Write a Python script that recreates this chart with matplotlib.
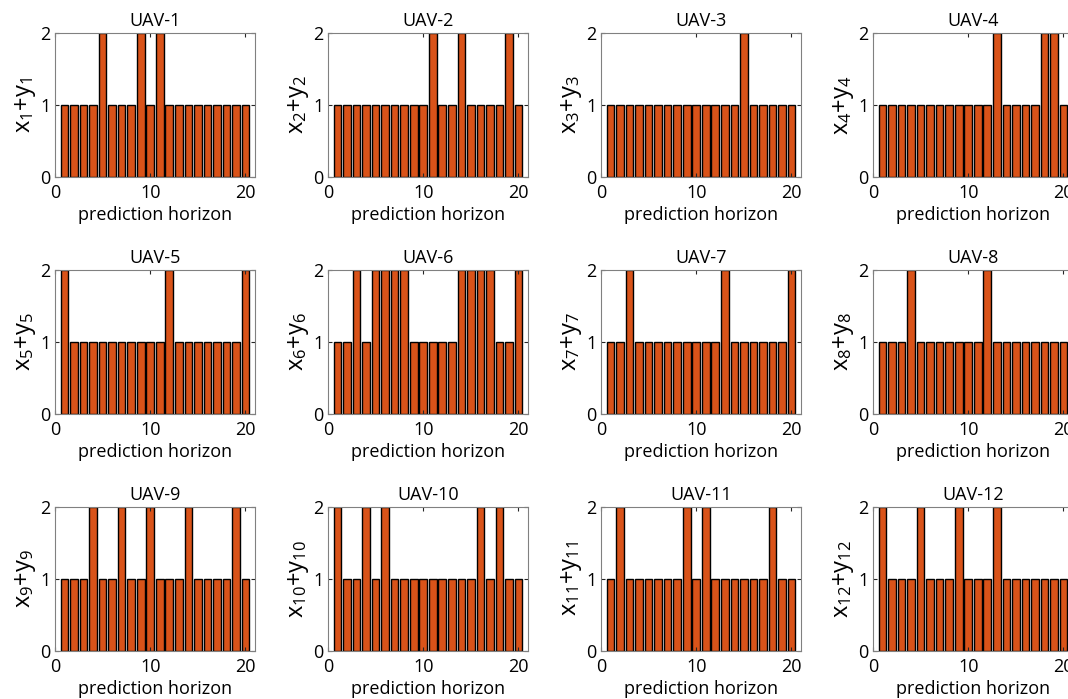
import numpy as np
import matplotlib
matplotlib.use("Agg")
import matplotlib.pyplot as plt

plt.rcParams['font.family'] = ['Open Sans', 'DejaVu Sans']
plt.rcParams['mathtext.fontset'] = 'custom'
plt.rcParams['mathtext.rm'] = 'Open Sans'
plt.rcParams['mathtext.it'] = 'Open Sans'

# prediction horizon steps
steps = np.arange(1, 21)

# steps where x_i + y_i = 2 (all other steps are 1)
uav1 = [5, 9, 11]
uav2 = [11, 14, 19]
uav3 = [15]
uav4 = [13, 18, 19]
uav5 = [1, 12, 20]
uav6 = [3, 5, 6, 7, 8, 14, 15, 16, 17, 20]
uav7 = [3, 13, 20]
uav8 = [4, 12]
uav9 = [4, 7, 10, 14, 19]
uav10 = [1, 4, 6, 16, 18]
uav11 = [2, 9, 11, 18]
uav12 = [1, 5, 9, 13]

peaks = [uav1, uav2, uav3, uav4, uav5, uav6,
         uav7, uav8, uav9, uav10, uav11, uav12]

W, H = 1068, 699
fig = plt.figure(figsize=(W / 100, H / 100), dpi=100)

col_left = [55, 328, 601, 873]
row_top = [33, 270, 507]
ax_w, ax_h = 200, 144
edge = '#262626'

for i, pk in enumerate(peaks):
    r, c = divmod(i, 4)
    ax = fig.add_axes([col_left[c] / W, (H - row_top[r] - ax_h) / H, ax_w / W, ax_h / H])
    vals = np.ones(len(steps))
    vals[np.array(pk) - 1] = 2
    ax.bar(steps, vals, width=0.8, color='#D95319', edgecolor='black', linewidth=1.0)
    ax.set_xlim(0, 21)
    ax.set_ylim(0, 2)
    ax.set_xticks([0, 10, 20])
    ax.set_yticks([0, 1, 2])
    ax.tick_params(direction='in', top=True, right=True, labelsize=13, colors=edge,
                   length=3)
    ax.tick_params(axis='x', pad=5)
    ax.tick_params(axis='y', pad=3)
    ax.tick_params(labelcolor='black')
    for s in ax.spines.values():
        s.set_color('#808080')
        s.set_linewidth(0.8)
    n = i + 1
    ax.set_title(f'UAV-{n}', fontsize=13, pad=5)
    ax.set_xlabel('prediction horizon', fontsize=13, labelpad=3)
    ax.set_ylabel(r'$\mathregular{x_{%d}{+}y_{%d}}$' % (n, n), fontsize=17, labelpad=2)

plt.savefig('out.png', dpi=100)
